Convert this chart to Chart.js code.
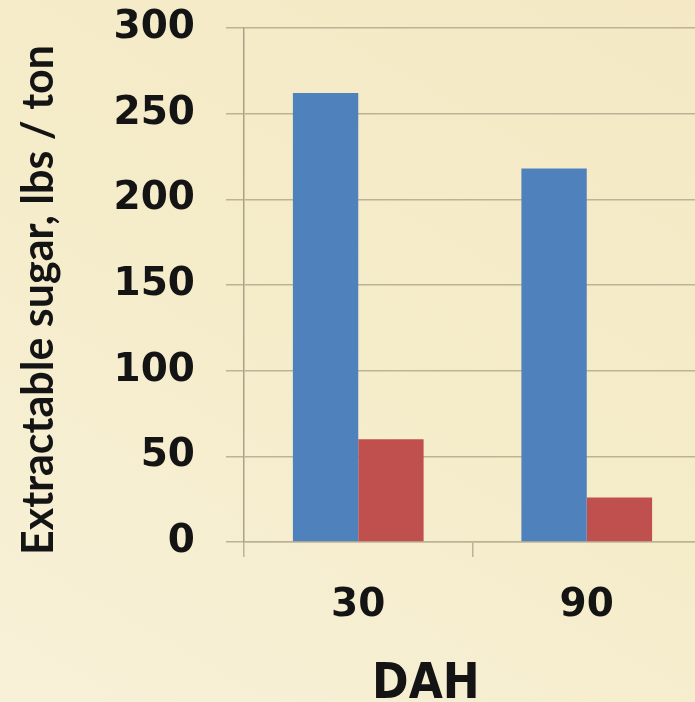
<!DOCTYPE html>
<html>
<head>
<meta charset="utf-8">
<script src="https://cdn.jsdelivr.net/npm/chart.js@4"></script>
<style>
  html, body { margin: 0; padding: 0; overflow: hidden; width: 695px; height: 702px; }
  body { background: linear-gradient(210deg, #f4e9c4 0%, #f5ecca 50%, #f8f1d8 100%); }
  canvas { display: block; }
</style>
</head>
<body>
<canvas id="c" width="702" height="702"></canvas>
<script>
// Days after harvest and extractable sugar per series
const categories = ['30', '90'];
const seriesA = [262, 218];
const seriesB = [60, 26];
const yTicks = [0, 50, 100, 150, 200, 250, 300];
const xTitle = 'DAH';
const yTitle = 'Extractable sugar, lbs / ton';

const gridColor = '#bcb396';
const tickFont = { family: '"DejaVu Sans", sans-serif', size: 39, weight: 'bold' };

// Axis titles drawn relative to the plot area
const axisTitles = {
  id: 'axisTitles',
  afterDraw(chart) {
    const { ctx, chartArea } = chart;
    ctx.save();
    ctx.fillStyle = '#141414';
    ctx.font = 'bold 49px "DejaVu Sans Condensed", "DejaVu Sans", sans-serif';
    ctx.textAlign = 'center';
    ctx.textBaseline = 'alphabetic';
    const xs = chart.scales.x;
    ctx.fillText(xTitle, xs.left + (xs.right - xs.left) * 0.398, chart.height - 4);

    ctx.font = 'bold 43px Lato, "Open Sans", sans-serif';
    ctx.translate(53, (chartArea.top + chartArea.bottom) / 2 + 15);
    ctx.rotate(-Math.PI / 2);
    ctx.fillText(yTitle, 0, 0);
    ctx.restore();
  }
};

new Chart(document.getElementById('c'), {
  type: 'bar',
  data: {
    labels: categories,
    datasets: [
      { data: seriesA, backgroundColor: '#4f81bd', borderWidth: 0 },
      { data: seriesB, backgroundColor: '#c0504d', borderWidth: 0 }
    ]
  },
  options: {
    responsive: false,
    animation: false,
    devicePixelRatio: 1,
    layout: { padding: { top: 0, right: 1, left: 0, bottom: 0 } },
    categoryPercentage: 0.572,
    barPercentage: 1.0,
    plugins: { legend: { display: false }, tooltip: { enabled: false } },
    scales: {
      x: {
        offset: true,
        grid: { offset: true, drawOnChartArea: false, drawTicks: true, tickLength: 15, color: gridColor, lineWidth: 1.5 },
        border: { display: true, color: gridColor, width: 1.5 },
        ticks: { color: '#141414', font: tickFont, padding: 25, maxRotation: 0 },
        afterFit(scale) { scale.height = 160; }
      },
      y: {
        min: 0,
        max: 300,
        afterBuildTicks(scale) { scale.ticks = yTicks.map(v => ({ value: v })); },
        grid: { color: gridColor, lineWidth: 1.5, tickLength: 18 },
        border: { display: true, color: '#aaa187', width: 1.5 },
        ticks: { color: '#141414', font: tickFont, padding: 31 },
        afterFit(scale) {
          scale.width = 244;
          scale.paddingTop = 28;
          scale.paddingBottom = 0;
        }
      }
    }
  },
  plugins: [axisTitles]
});
</script>
</body>
</html>
